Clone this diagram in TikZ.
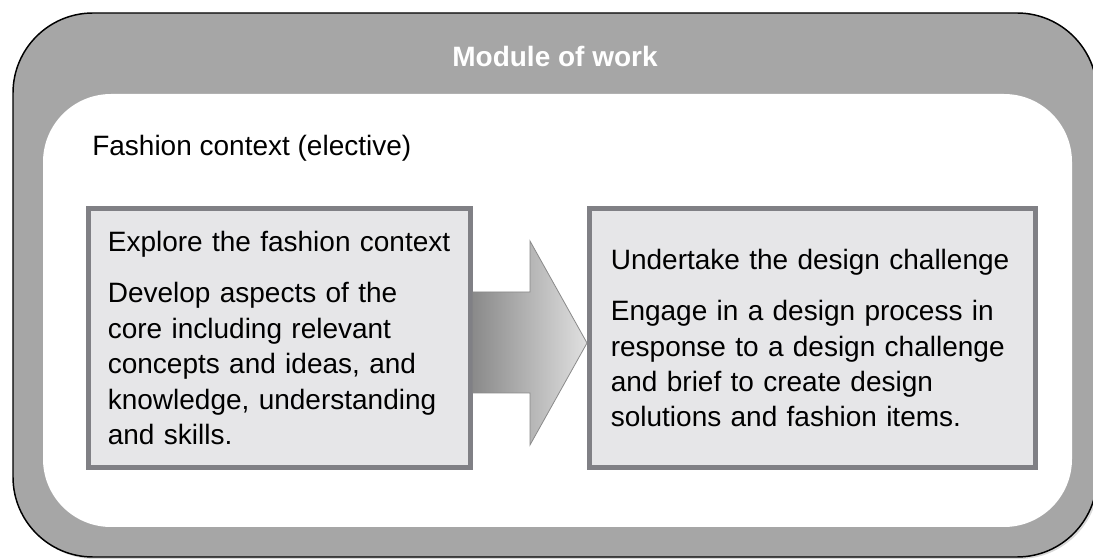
\documentclass[tikz,border=0pt]{standalone}
\usepackage{fontspec}
\setmainfont{Liberation Sans}
\usetikzlibrary{calc}
\usetikzlibrary{positioning}
\usetikzlibrary{shadows}
\definecolor{framegray}{HTML}{A6A6A6}
\definecolor{boxfill}{HTML}{E6E6E8}
\definecolor{boxline}{HTML}{808085}
\definecolor{arrowdark}{HTML}{8A8A8A}
\definecolor{arrowlight}{HTML}{E0E0E0}
\tikzset{
	frame/.style={
		fill=framegray,
		draw=black, line width=1.1pt,
		rounded corners=60pt,
		drop shadow={opacity=.3, shadow xshift=1.5pt, shadow yshift=-1.5pt}},
	panel/.style={fill=white, rounded corners=51pt},
	taskbox/.style={
		rectangle,
		fill=boxfill,
		draw=boxline, line width=3.75pt,
		minimum height=194.25pt,
		inner xsep=14.5pt,
		align=left,
		font=\fontsize{21}{26.6}\selectfont},
	blockarrow/.style={
		draw=arrowdark, line width=.6pt,
		left color=arrowdark, right color=arrowlight},
}

\begin{document}
\begin{tikzpicture}
		[x=0.75pt, y=-0.75pt]
		\clip (0,0) rectangle (1093,559);
		% grey frame with the white panel inside
		\path[frame] (13,13) rectangle (1097,557);
		\path[panel] (43,94) rectangle (1072,527);
		\node[anchor=base, inner sep=0, text=white, font=\fontsize{21}{26.6}\selectfont\bfseries] (title) at (555,67) {Module of work};
		\node[anchor=base west, inner sep=0, font=\fontsize{21}{26.6}\selectfont] (context) at (92,156) {Fashion context (elective)};
		% the two stages
		\node[taskbox, text width=257.5pt] (explore) at (279.5,338)
			{Explore the fashion context\\[12pt]
			Develop aspects of the\\ core including relevant\\ concepts and ideas, and\\ knowledge, understanding\\ and skills.};
		\node[taskbox, text width=302.5pt, inner xsep=16pt, right=85.5pt of explore] (undertake)
			{Undertake the design challenge\\[12pt]
			Engage in a design process in\\ response to a design challenge\\ and brief to create design\\ solutions and fashion items.};
		\path[blockarrow] ($(explore.east)+(0,-46)$) -- ++(57,0) -- ++(0,-51)
			-- ($(undertake.west)+(0,5)$)
			-- ($(explore.east)+(57,107)$) -- ++(0,-52)
			-- ($(explore.east)+(0,55)$) -- cycle;
		\end{tikzpicture}
\end{document}
